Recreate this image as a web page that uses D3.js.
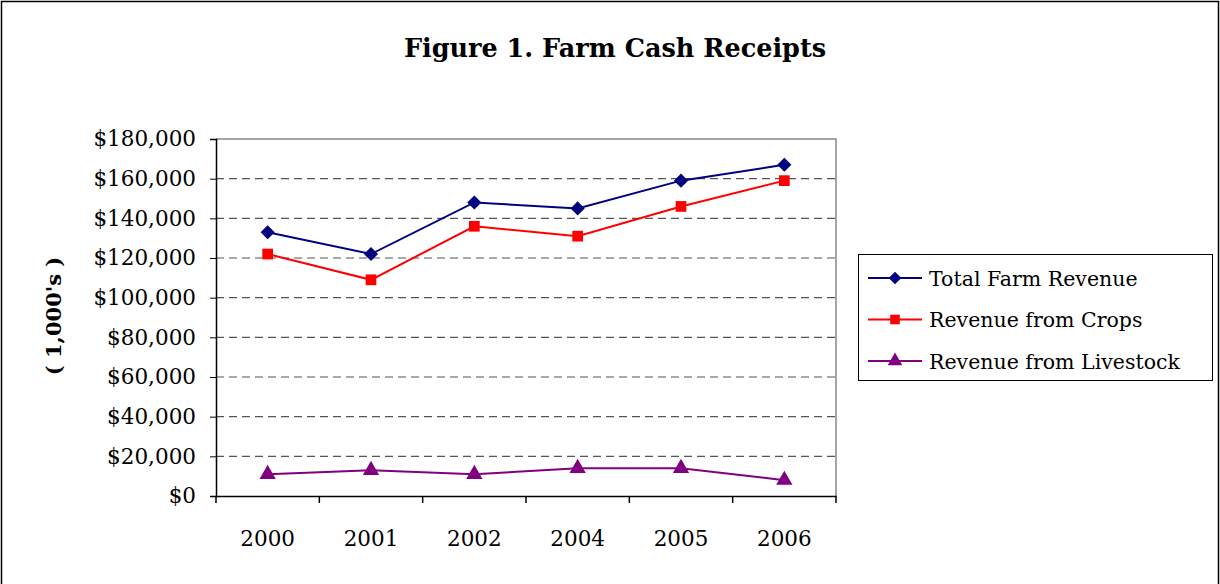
<!DOCTYPE html>
<html>
<head>
<meta charset="utf-8">
<script src="https://cdn.jsdelivr.net/npm/d3@7"></script>
<style>
  body { margin: 0; background: #fff; }
  svg { display: block; font-family: "DejaVu Serif", serif; }
</style>
</head>
<body>
<svg id="chart" width="1220" height="584"></svg>
<script>
// datos
const years = ["2000", "2001", "2002", "2004", "2005", "2006"];
const totalRevenue = [133000, 122000, 148000, 145000, 159000, 167000];
const cropRevenue = [122000, 109000, 136000, 131000, 146000, 159000];
const livestockRevenue = [11000, 13000, 11000, 14000, 14000, 8000];
const yTicks = [0, 20000, 40000, 60000, 80000, 100000, 120000, 140000, 160000, 180000];
const seriesNames = ["Total Farm Revenue", "Revenue from Crops", "Revenue from Livestock"];

const series = [
  { name: seriesNames[0], values: totalRevenue, color: "#000080", shape: d3.symbolSquare, size: 100, rot: 45 },
  { name: seriesNames[1], values: cropRevenue, color: "#ff0000", shape: d3.symbolSquare, size: 115, rot: 0 },
  { name: seriesNames[2], values: livestockRevenue, color: "#800080", shape: d3.symbolTriangle, size: 115, rot: 0 }
];

const svg = d3.select("#chart");
const W = 1220, H = 584;
const plot = { left: 216, right: 836, top: 139, bottom: 496 };

// borde exterior
svg.append("rect")
  .attr("x", 1.5).attr("y", 1.5)
  .attr("width", W - 3).attr("height", H + 10)
  .attr("fill", "#fff").attr("stroke", "#000").attr("stroke-width", 1.5);

// título
svg.append("text")
  .attr("x", 615).attr("y", 57)
  .attr("text-anchor", "middle")
  .attr("font-size", 25.5).attr("font-weight", "bold")
  .text("Figure 1. Farm Cash Receipts");

const x = d3.scaleBand().domain(years).range([plot.left, plot.right]).padding(0);
const y = d3.scaleLinear().domain([0, 180000]).range([plot.bottom, plot.top]);

// líneas de cuadrícula
svg.append("g")
  .selectAll("line")
  .data(yTicks.filter(d => d > 0 && d < 180000))
  .enter().append("line")
  .attr("x1", plot.left).attr("x2", plot.right)
  .attr("y1", d => y(d)).attr("y2", d => y(d))
  .attr("stroke", "#555").attr("stroke-width", 1.2)
  .attr("stroke-dasharray", "8,5");

// borde superior y derecho del área
svg.append("path")
  .attr("d", `M${plot.left},${y(180000)}H${plot.right}V${plot.bottom}`)
  .attr("fill", "none").attr("stroke", "#888").attr("stroke-width", 1.5);

// eje Y
const yAxis = svg.append("g")
  .attr("transform", `translate(${plot.left},0)`)
  .call(d3.axisLeft(y).tickValues(yTicks).tickSize(6).tickPadding(14)
    .tickFormat(d => "$" + d3.format(",")(d)));
yAxis.select(".domain").attr("stroke", "#000").attr("stroke-width", 1.5);
yAxis.selectAll("text").attr("font-size", 21.5).attr("font-family", "DejaVu Serif").attr("fill", "#000");

// eje X: etiquetas centradas, marcas en los límites
const xAxis = svg.append("g")
  .attr("transform", `translate(0,${plot.bottom})`)
  .call(d3.axisBottom(x).tickSize(0).tickPadding(35));
xAxis.select(".domain").attr("stroke", "#000").attr("stroke-width", 1.5);
xAxis.selectAll("text").attr("font-size", 21.5).attr("font-family", "DejaVu Serif").attr("fill", "#000");
xAxis.selectAll(".boundary")
  .data(years.map(d => x(d)).concat([plot.right]))
  .enter().append("line")
  .attr("class", "boundary")
  .attr("x1", d => d).attr("x2", d => d)
  .attr("y1", 0).attr("y2", 7)
  .attr("stroke", "#000").attr("stroke-width", 1.5);

// título del eje Y
svg.append("text")
  .attr("transform", "translate(61,316) rotate(-90)")
  .attr("text-anchor", "middle")
  .attr("font-size", 21).attr("font-weight", "bold")
  .text("( 1,000's )");

// series
const cx = d => x(d) + x.bandwidth() / 2;
const line = d3.line().x((d, i) => cx(years[i])).y(d => y(d));

series.forEach(s => {
  svg.append("path")
    .datum(s.values)
    .attr("d", line)
    .attr("fill", "none")
    .attr("stroke", s.color).attr("stroke-width", 2);

  svg.append("g")
    .selectAll("path")
    .data(s.values)
    .enter().append("path")
    .attr("transform", (d, i) => `translate(${cx(years[i])},${y(d)}) rotate(${s.rot})`)
    .attr("d", d3.symbol().type(s.shape).size(s.size))
    .attr("fill", s.color);
});

// leyenda
const legend = svg.append("g").attr("transform", "translate(858,254)");
legend.append("rect")
  .attr("x", 0.5).attr("y", 0.5)
  .attr("width", 354).attr("height", 126)
  .attr("fill", "#fff").attr("stroke", "#000").attr("stroke-width", 1);

series.forEach((s, i) => {
  const ly = 24 + i * 41.5;
  legend.append("line")
    .attr("x1", 10).attr("x2", 64)
    .attr("y1", ly).attr("y2", ly)
    .attr("stroke", s.color).attr("stroke-width", 2);
  legend.append("path")
    .attr("transform", `translate(37,${ly}) rotate(${s.rot})`)
    .attr("d", d3.symbol().type(s.shape).size(s.size * 0.8))
    .attr("fill", s.color);
  legend.append("text")
    .attr("x", 71).attr("y", ly + 7.5)
    .attr("font-size", 20.5)
    .text(s.name);
});
</script>
</body>
</html>
